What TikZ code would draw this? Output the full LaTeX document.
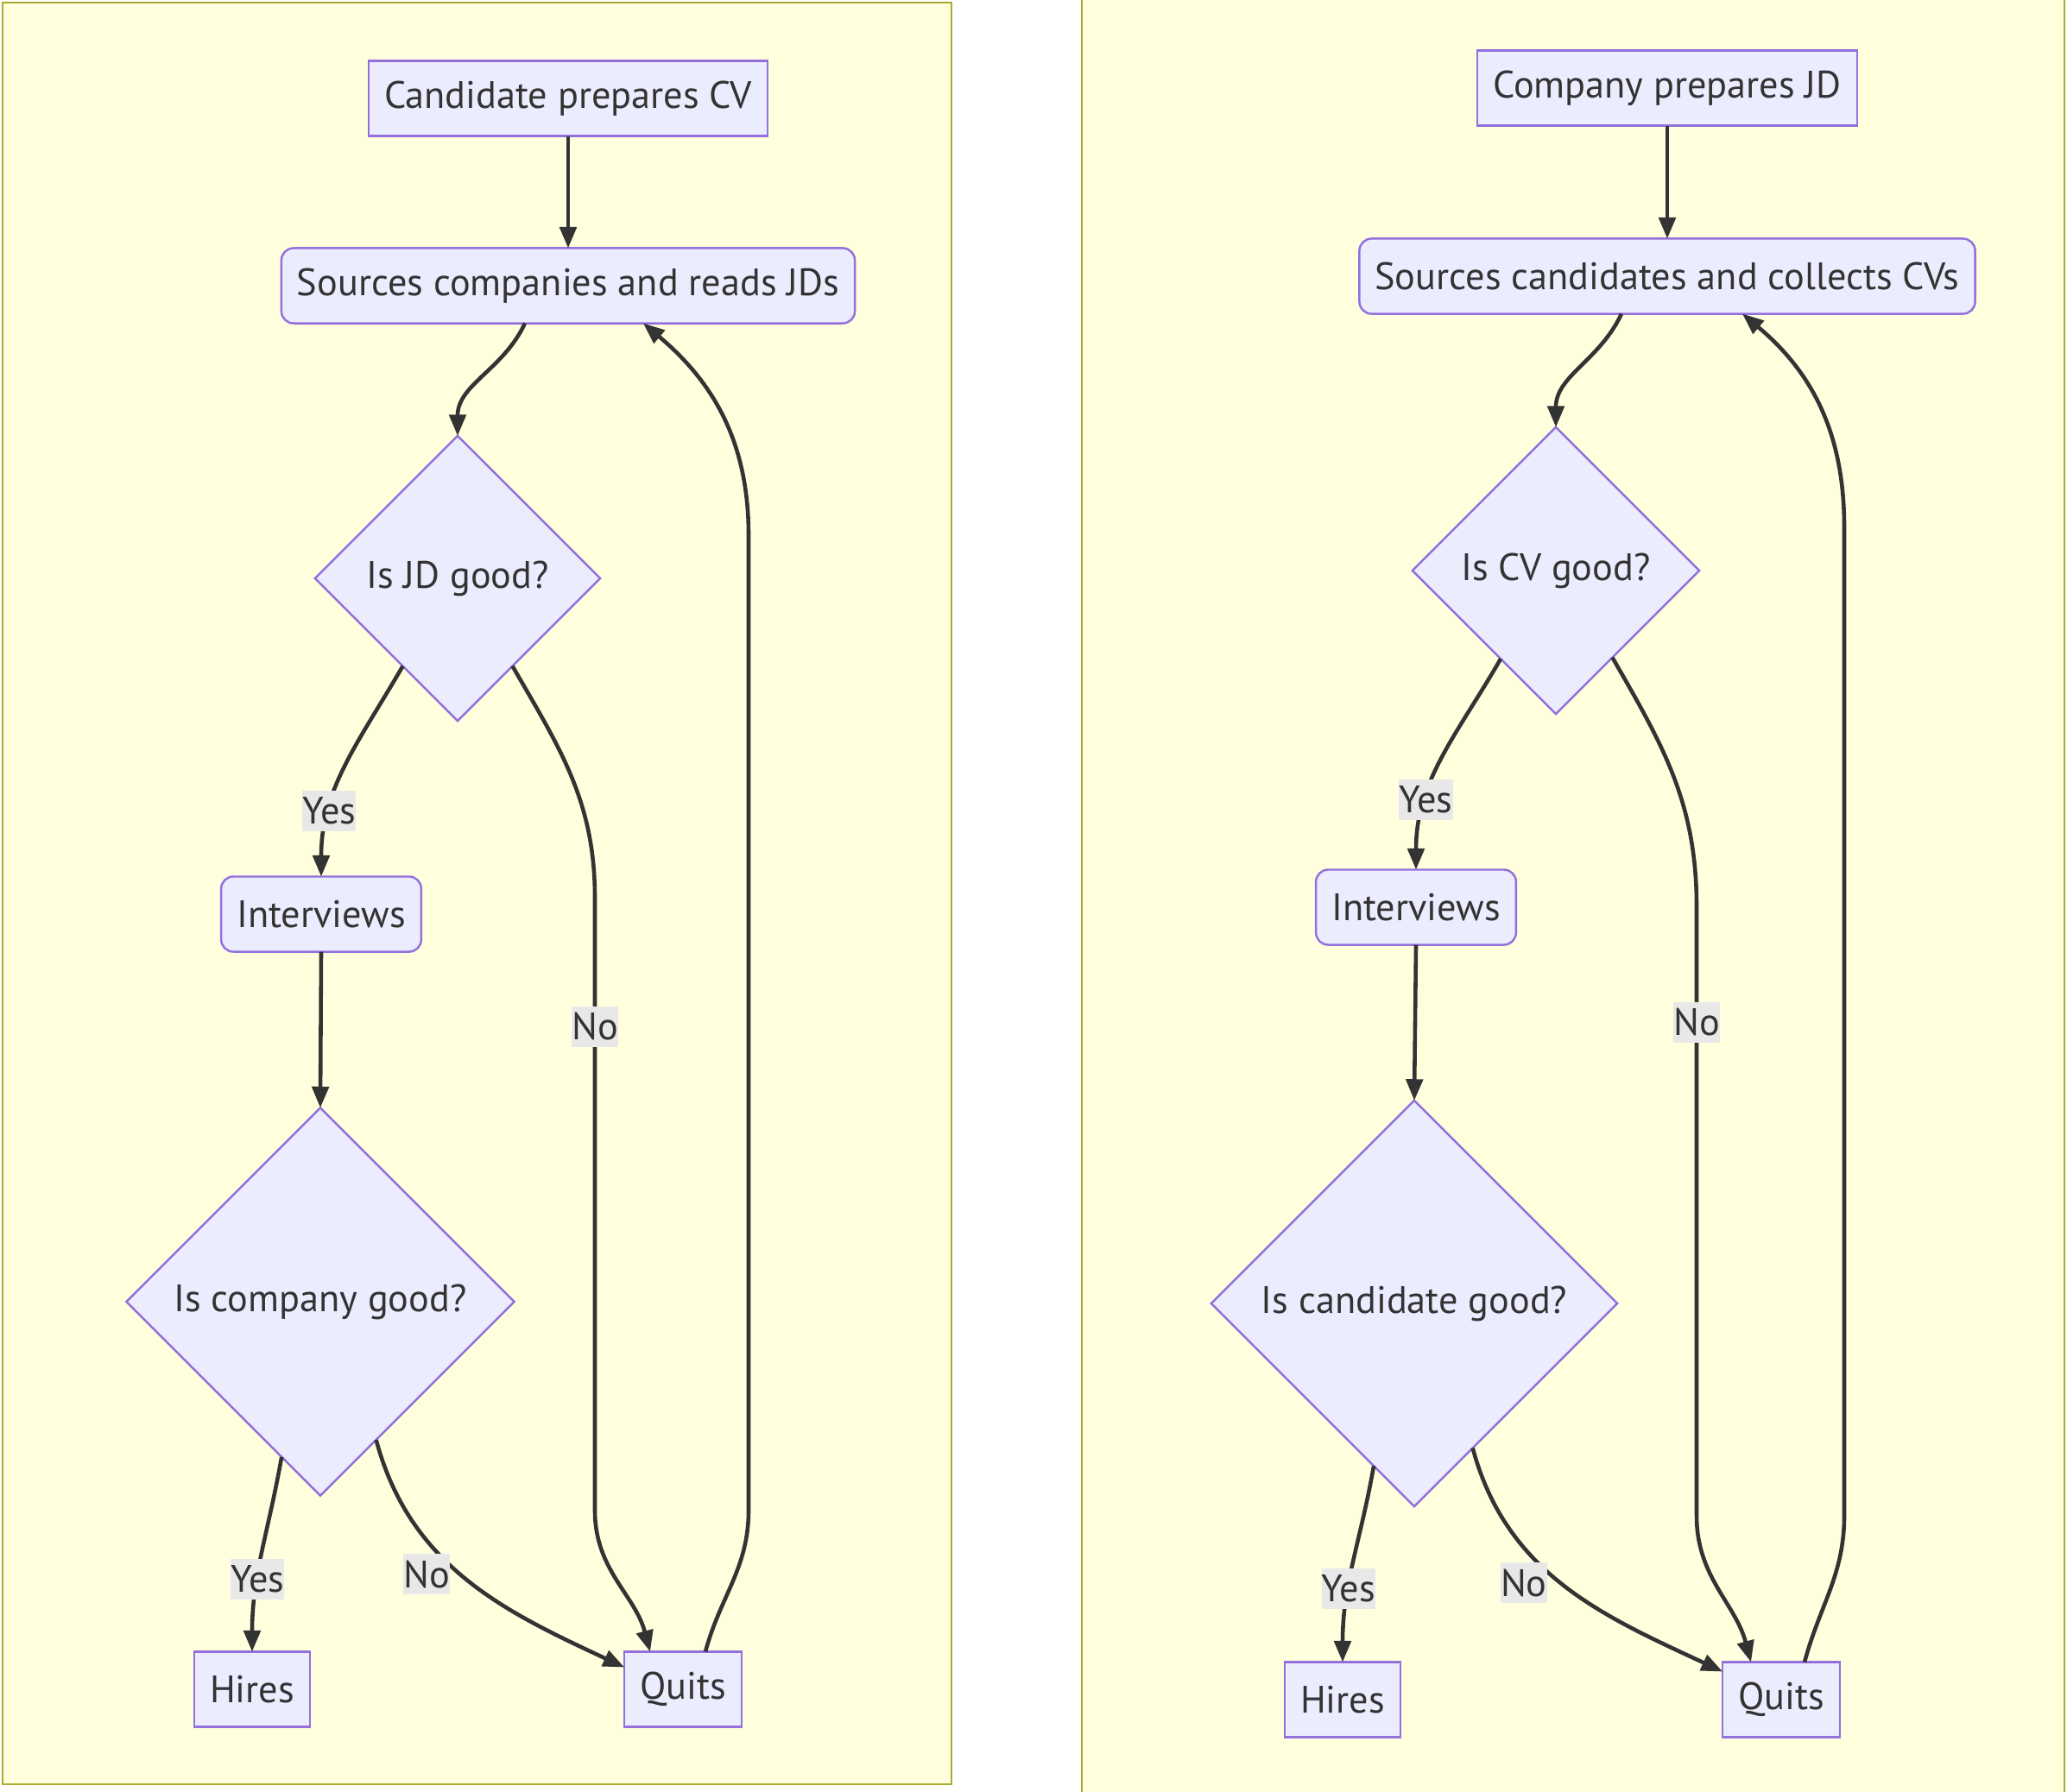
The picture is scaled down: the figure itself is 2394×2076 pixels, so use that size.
\documentclass[tikz,border=0pt]{standalone}
\usepackage{fontspec}
\setmainfont{PT Sans}
\usetikzlibrary{arrows.meta,positioning,calc,shapes.geometric}
\definecolor{clusterfill}{HTML}{FFFFDE}
\definecolor{clusterline}{HTML}{AAAA33}
\definecolor{nodefill}{HTML}{ECECFF}
\definecolor{nodeline}{HTML}{9370DB}
\definecolor{edgecol}{HTML}{333333}
\definecolor{lblfill}{HTML}{E8E8E8}

\begin{document}
\begin{tikzpicture}[
  x=0.01cm, y=-0.01cm,
  >={Triangle[length=7pt,width=5.5pt]},
  every node/.style={font=\fontsize{12.6}{15}\selectfont, text=edgecol},
  box/.style={draw=nodeline, fill=nodefill, line width=0.7pt, minimum height=0.87cm, inner xsep=0.18cm, inner ysep=0pt, outer sep=0pt},
  rbox/.style={box, rounded corners=4pt},
  decision/.style={diamond, aspect=1, draw=nodeline, fill=nodefill, line width=0.7pt, inner sep=0pt, outer sep=0pt},
  lbl/.style={fill=lblfill, inner sep=0pt, minimum height=0.47cm},
  edge/.style={->, draw=edgecol, line width=1.3pt},
  cluster/.style={draw=clusterline, fill=clusterfill, line width=0.8pt}
]
\clip (0,0) rectangle (2394,2076);
\draw[cluster] (3,3) rectangle (1102,2067);
\draw[cluster] (1253,-20) rectangle (2391,2100);

% Candidate side
\node[box] (cvL) at (658,114) {Candidate prepares CV};
\node[rbox] (srcL) at (658,331) {Sources companies and reads JDs};
\node[decision, minimum size=3.3cm] (jdq) at (530,670) {Is JD good?};
\node[rbox] (intL) at (372,1059) {Interviews};
\node[decision, minimum size=4.49cm] (compq) at (371,1508) {Is company good?};
\node[box] (hiresL) at (292,1957) {Hires};
\node[box] (quitsL) at (791,1957) {Quits};

\draw[edge] (cvL.south) -- (srcL.north);
\draw[edge] ($(srcL.south)+(-50,0)$) to[out=-115,in=90] (jdq.north);
\draw[edge] (jdq.-122) to[out=-120,in=90] node[lbl,pos=.72] (yesL1) {Yes} (intL.north);
\draw[edge] (jdq.-58) to[out=-60,in=90] (689,1040) -- node[lbl,pos=.21] (noL1) {No} (689,1750)
  to[out=-90,in=105] ($(quitsL.north)+(-38,0)$);
\draw[edge] (intL.south) -- (compq.north);
\draw[edge] (compq.-104) to[out=-100,in=90] node[lbl,pos=.64] (yesL2) {Yes} (hiresL.north);
\draw[edge] (compq.-68) to[out=-75,in=155] node[lbl,pos=.4,xshift=-0.2cm,yshift=-0.18cm] (noL2) {No} ($(quitsL.north west)+(0,18)$);
\draw[edge] ($(quitsL.north)+(26,0)$) to[out=75,in=-90] (867,1750) -- (867,620)
  to[out=90,in=-40] ($(srcL.south)+(87,0)$);

% Company side
\node[box] (jdR) at (1931,102) {Company prepares JD};
\node[rbox] (srcR) at (1931,320) {Sources candidates and collects CVs};
\node[decision, minimum size=3.32cm] (cvq) at (1802,661) {Is CV good?};
\node[rbox] (intR) at (1640,1051) {Interviews};
\node[decision, minimum size=4.7cm] (candq) at (1638,1510) {Is candidate good?};
\node[box] (hiresR) at (1555,1969) {Hires};
\node[box] (quitsR) at (2063,1969) {Quits};

\draw[edge] (jdR.south) -- (srcR.north);
\draw[edge] ($(srcR.south)+(-53,0)$) to[out=-115,in=90] (cvq.north);
\draw[edge] (cvq.-122) to[out=-120,in=90] node[lbl,pos=.7] (yesR1) {Yes} (intR.north);
\draw[edge] (cvq.-57) to[out=-60,in=90] (1965,1050) -- node[lbl,pos=.19] (noR1) {No} (1965,1756)
  to[out=-90,in=105] ($(quitsR.north)+(-35,0)$);
\draw[edge] (intR.south) -- (candq.north);
\draw[edge] (candq.-104) to[out=-100,in=90] node[lbl,pos=.64] (yesR2) {Yes} (hiresR.north);
\draw[edge] (candq.-68) to[out=-75,in=155] node[lbl,pos=.4,xshift=-0.2cm,yshift=-0.2cm] (noR2) {No} ($(quitsR.north west)+(0,11)$);
\draw[edge] ($(quitsR.north)+(27,0)$) to[out=75,in=-90] (2136,1756) -- (2136,611)
  to[out=90,in=-40] ($(srcR.south)+(87,0)$);
\end{tikzpicture}
\end{document}
